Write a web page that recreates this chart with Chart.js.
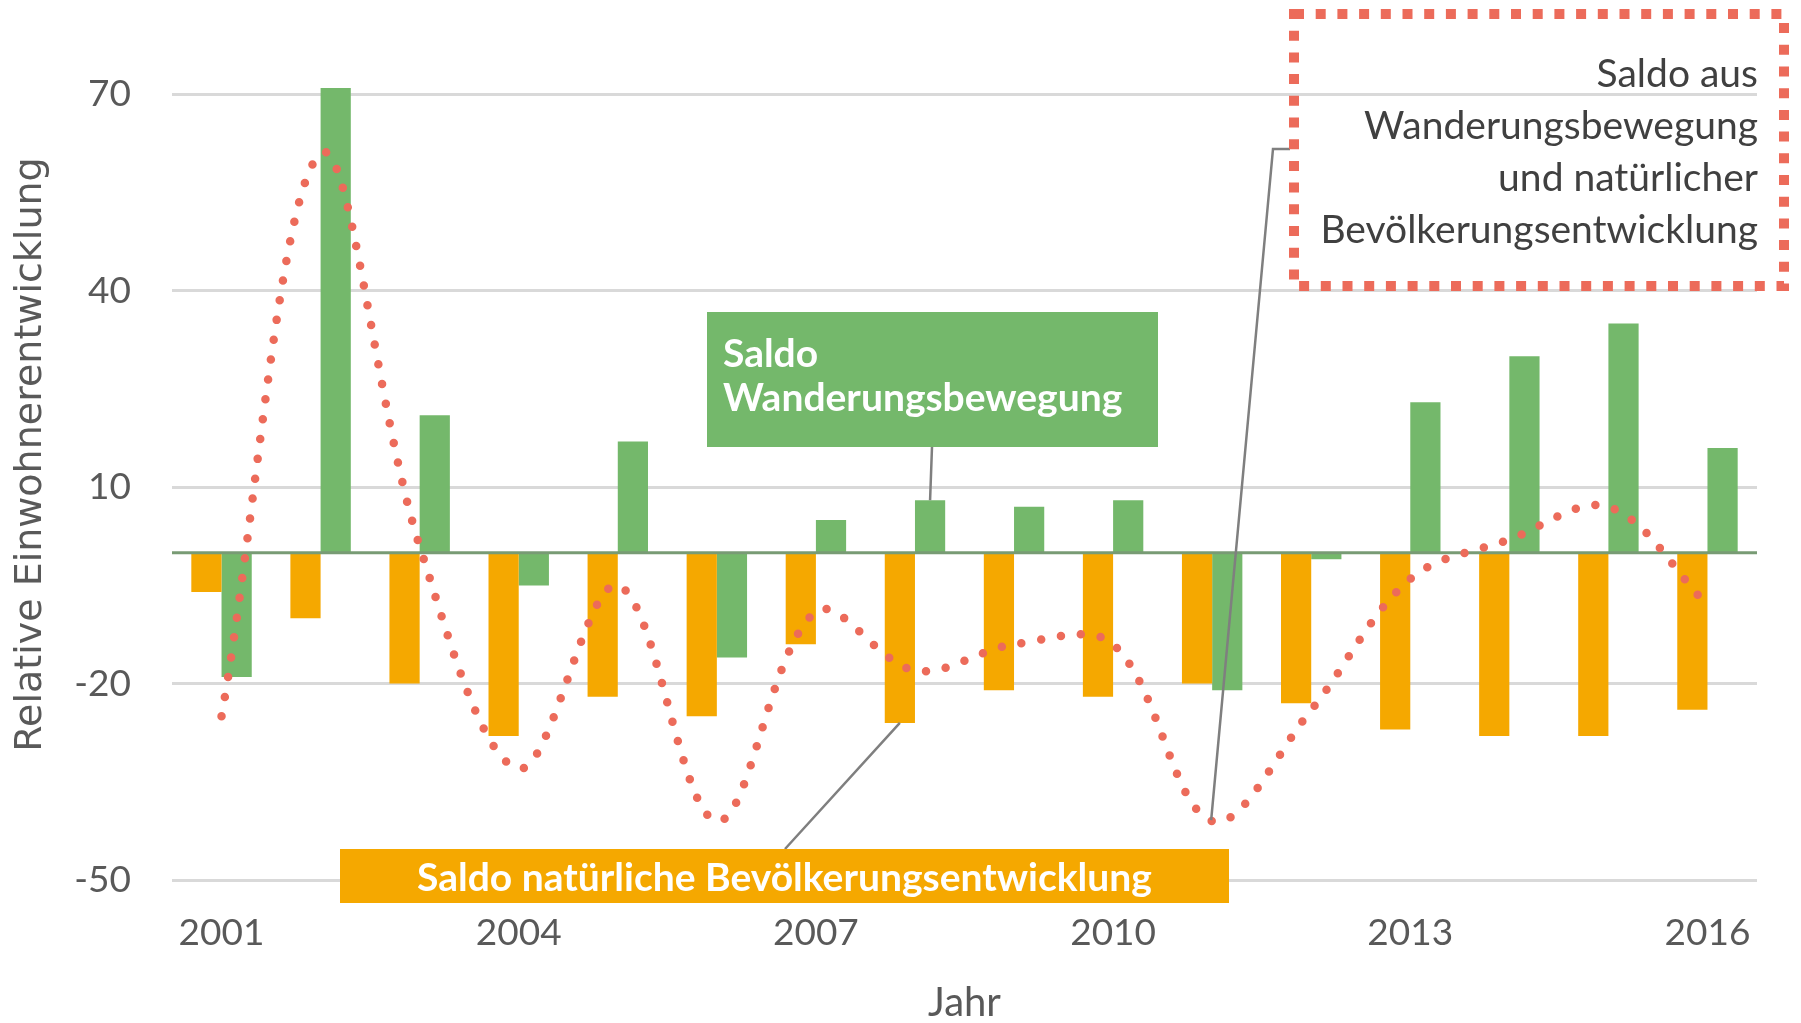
<!DOCTYPE html>
<html>
<head>
<meta charset="utf-8">
<script src="https://cdn.jsdelivr.net/npm/chart.js@4"></script>
<style>
  html, body { margin: 0; padding: 0; background: #fff; }
</style>
</head>
<body>
<canvas id="myChart" width="1801" height="1023"></canvas>
<script>
// values
const years = ['2001', '2002', '2003', '2004', '2005', '2006', '2007', '2008',
  '2009', '2010', '2011', '2012', '2013', '2014', '2015', '2016'];
const xTickLabels = ['2001', '2004', '2007', '2010', '2013', '2016'];
const yTicks = [-50, -20, 10, 40, 70];
const natural = [-6, -10, -20, -28, -22, -25, -14, -26, -21, -22, -20, -23, -27, -28, -28, -24];
const migration = [-19, 71, 21, -5, 17, -16, 5, 8, 7, 8, -21, -1, 23, 30, 35, 16];
const total = [-25, 61, 1, -33, -5, -41, -9, -18, -14, -14, -41, -24, -4, 2, 7, -8];

const orange = '#F5A800';
const green = '#74B86B';
const red = '#EC6B5A';
const textGrey = '#595959';
const font = "Lato, 'Open Sans', sans-serif";

// horizontal axis line at 0, drawn over the bars but under the dotted line
const zeroLine = {
  id: 'zeroLine',
  beforeDatasetDraw(chart, args) {
    if (args.index !== 2) return;
    const {ctx, chartArea} = chart;
    const y0 = chart.scales.y.getPixelForValue(0);
    ctx.save();
    ctx.strokeStyle = '#789B74';
    ctx.lineWidth = 3;
    ctx.beginPath();
    ctx.moveTo(chartArea.left, y0);
    ctx.lineTo(chartArea.right, y0);
    ctx.stroke();
    ctx.restore();
  }
};

// callout boxes with their leader lines
const callouts = {
  id: 'callouts',
  afterDatasetsDraw(chart) {
    const ctx = chart.ctx;
    const orangeBar = chart.getDatasetMeta(0).data[7];
    const greenBar = chart.getDatasetMeta(1).data[7];
    const dip = chart.getDatasetMeta(2).data[10];
    ctx.save();

    // leader lines
    ctx.strokeStyle = '#7F7F7F';
    ctx.lineWidth = 2.5;
    ctx.beginPath();
    ctx.moveTo(932, 447);
    ctx.lineTo(greenBar.x, greenBar.y);
    ctx.moveTo(785, 849);
    ctx.lineTo(orangeBar.x, orangeBar.y);
    ctx.moveTo(1290, 149);
    ctx.lineTo(1273, 149);
    ctx.lineTo(dip.x - 1, dip.y - 1);
    ctx.stroke();

    // green box
    ctx.fillStyle = green;
    ctx.fillRect(707, 312, 451, 135);
    ctx.fillStyle = '#fff';
    ctx.font = 'bold 39px ' + font;
    ctx.textAlign = 'left';
    ctx.textBaseline = 'alphabetic';
    ctx.fillText('Saldo', 723, 367);
    ctx.fillText('Wanderungsbewegung', 723, 411);

    // orange box
    ctx.fillStyle = orange;
    ctx.fillRect(340, 849, 889, 54);
    ctx.fillStyle = '#fff';
    ctx.textAlign = 'center';
    ctx.fillText('Saldo natürliche Bevölkerungsentwicklung', 784.5, 891);

    // dotted box
    ctx.strokeStyle = red;
    ctx.lineWidth = 10;
    ctx.setLineDash([10, 11.7]);
    ctx.strokeRect(1294, 14, 490, 272);
    ctx.setLineDash([]);
    ctx.fillStyle = '#404040';
    ctx.font = '39px ' + font;
    ctx.textAlign = 'right';
    ctx.fillText('Saldo aus', 1758, 87);
    ctx.fillText('Wanderungsbewegung', 1758, 139);
    ctx.fillText('und natürlicher', 1758, 191);
    ctx.fillText('Bevölkerungsentwicklung', 1758, 243);
    ctx.restore();
  }
};

const ctx = document.getElementById('myChart').getContext('2d');
const myChart = new Chart(ctx, {
  data: {
    labels: years,
    datasets: [{
      type: 'bar',
      label: 'Saldo natürliche Bevölkerungsentwicklung',
      data: natural,
      backgroundColor: orange,
      barPercentage: 1,
      categoryPercentage: 0.61,
      order: 1
    }, {
      type: 'bar',
      label: 'Saldo Wanderungsbewegung',
      data: migration,
      backgroundColor: green,
      barPercentage: 1,
      categoryPercentage: 0.61,
      order: 1
    }, {
      type: 'line',
      label: 'Saldo aus Wanderungsbewegung und natürlicher Bevölkerungsentwicklung',
      data: total,
      borderColor: red,
      borderWidth: 8.5,
      borderDash: [0, 20],
      borderCapStyle: 'round',
      pointRadius: 0,
      tension: 0.35,
      fill: false,
      order: 0
    }]
  },
  options: {
    responsive: false,
    animation: false,
    layout: {
      padding: { top: 29, right: 44, left: 0, bottom: 0 }
    },
    plugins: {
      legend: { display: false },
      tooltip: { enabled: false }
    },
    scales: {
      x: {
        grid: { display: false, drawTicks: false },
        border: { display: false },
        ticks: {
          autoSkip: false,
          maxRotation: 0,
          padding: 31,
          color: textGrey,
          font: { family: font, size: 37 },
          callback: function(val, i) {
            return xTickLabels.includes(years[i]) ? years[i] : '';
          }
        },
        title: {
          display: true,
          text: 'Jahr',
          color: textGrey,
          font: { family: font, size: 40, lineHeight: 1 },
          padding: { top: 0, bottom: 0 }
        },
        afterFit: function(scale) { scale.height = 143; }
      },
      y: {
        min: -50,
        max: 80,
        afterBuildTicks: function(scale) {
          scale.ticks = yTicks.map(v => ({ value: v }));
        },
        grid: { color: '#D9D9D9', lineWidth: 3, drawTicks: false },
        border: { display: false },
        ticks: {
          padding: 41,
          color: textGrey,
          font: { family: font, size: 37 }
        },
        title: {
          display: true,
          text: 'Relative Einwohnerentwicklung',
          color: textGrey,
          font: { family: "'DejaVu Sans', Verdana, sans-serif", size: 38, lineHeight: 1 },
          padding: { top: 12, bottom: 0 }
        },
        afterFit: function(scale) {
          scale.width = 172;
          scale.paddingTop = 0;
          scale.paddingBottom = 0;
        }
      }
    }
  },
  plugins: [zeroLine, callouts]
});
</script>
</body>
</html>
